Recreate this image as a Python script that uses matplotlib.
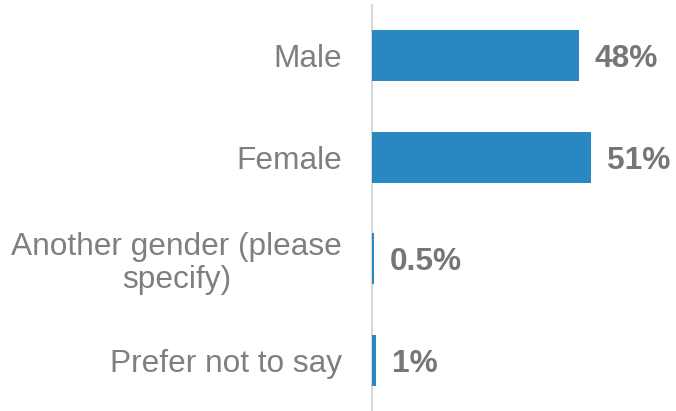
import matplotlib
matplotlib.use("Agg")
import matplotlib.pyplot as plt

categories = ["Male", "Female", "Another gender (please\nspecify)", "Prefer not to say"]
values = [48, 51, 0.5, 1]
value_labels = ["48%", "51%", "0.5%", "1%"]

plt.rcParams['font.family'] = ['Liberation Sans', 'DejaVu Sans']

fig = plt.figure(figsize=(6.76, 4.11), dpi=100)
ax = fig.add_axes([371.5/676, 0/411, 304.5/676, 406/411])

y = list(range(len(categories)))
ax.barh(y, values, height=0.5, color="#2988C2", zorder=3)
ax.set_ylim(3.5, -0.5)
ax.set_xlim(0, 70.6)

ax.set_yticks(y)
ax.set_yticklabels(categories, fontsize=22.8, color="#7F7F7F", linespacing=1.12,
                   ha="right", multialignment="center")
ax.tick_params(axis="y", length=0, pad=21.5)
ax.set_xticks([])

for s in ["top", "right", "bottom"]:
    ax.spines[s].set_visible(False)
ax.spines["left"].set_color("#D9D9D9")
ax.spines["left"].set_linewidth(1.5)
ax.spines["left"].set_zorder(1)

for yi, v, lab in zip(y, values, value_labels):
    ax.annotate(lab, xy=(v, yi), xytext=(11.5, 0), textcoords="offset points",
                va="center_baseline", ha="left", fontsize=22.8, fontweight="bold", color="#767676")

fig.savefig("out.png", dpi=100)
